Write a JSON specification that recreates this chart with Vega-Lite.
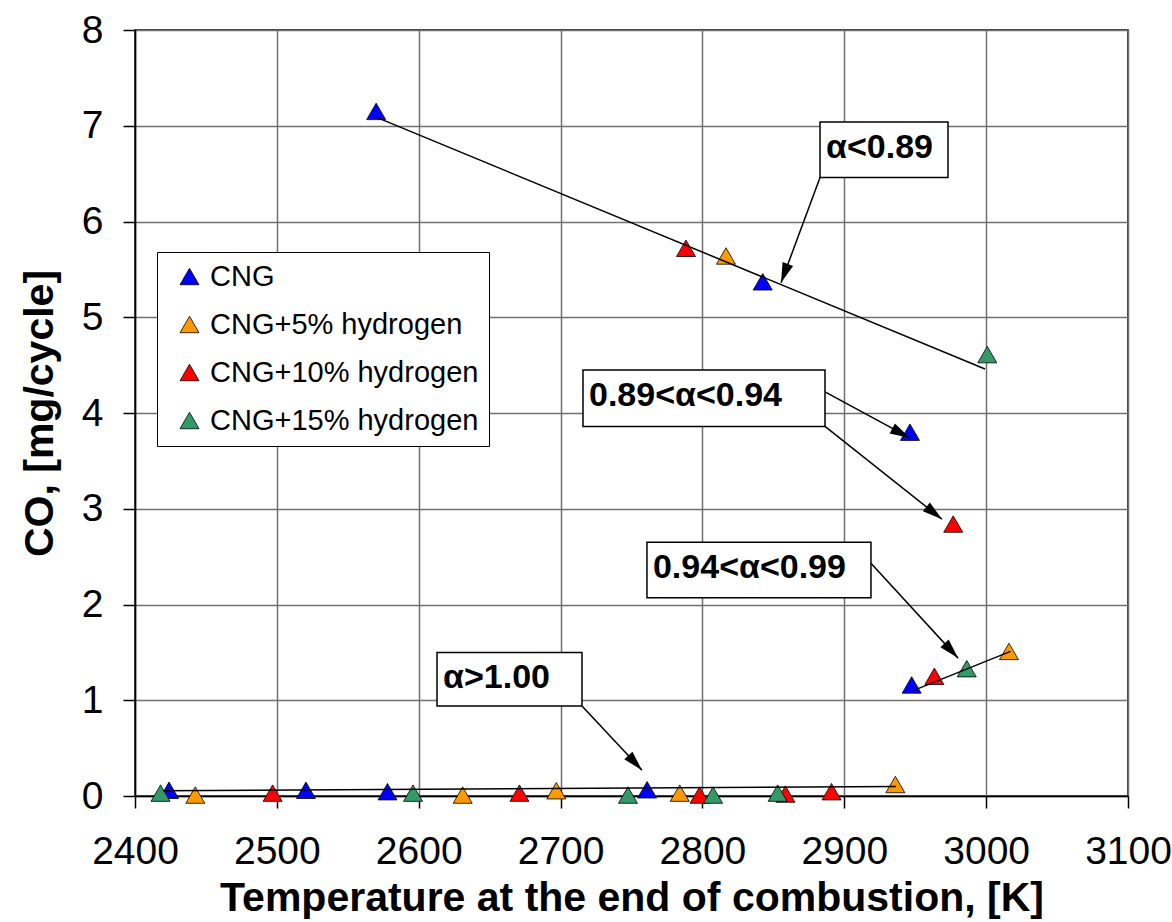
{
  "$schema": "https://vega.github.io/schema/vega-lite/v6.json",
  "width": 993,
  "height": 766,
  "autosize": {"type": "none"},
  "padding": {"left": 135, "top": 30, "right": 44, "bottom": 126},
  "background": "white",
  "config": {
    "font": "Liberation Sans",
    "view": {"stroke": "#000", "strokeWidth": 1.5},
    "axis": {
      "gridColor": "#707070", "gridWidth": 1.5, "gridOpacity": 1,
      "domainColor": "#000", "domainWidth": 1.5,
      "tickColor": "#000", "tickWidth": 1.5, "tickSize": 12,
      "labelFont": "Liberation Sans", "labelFontSize": 39, "labelColor": "#000",
      "labelFlush": false, "labelOverlap": false, "labelBound": false,
      "titleFont": "Liberation Sans", "titleFontSize": 41, "titleFontWeight": "bold", "titleColor": "#000"
    }
  },
  "datasets": {
    "points": [
      {"series": "CNG", "T": 2570, "CO": 7.15},
      {"series": "CNG", "T": 2842.5, "CO": 5.37},
      {"series": "CNG", "T": 2946.3, "CO": 3.80},
      {"series": "CNG", "T": 2947.5, "CO": 1.16},
      {"series": "CNG", "T": 2424, "CO": 0.06},
      {"series": "CNG", "T": 2520.5, "CO": 0.06},
      {"series": "CNG", "T": 2578, "CO": 0.045},
      {"series": "CNG", "T": 2761, "CO": 0.065},
      {"series": "CNG+5% hydrogen", "T": 2816.6, "CO": 5.64},
      {"series": "CNG+5% hydrogen", "T": 3016.1, "CO": 1.51},
      {"series": "CNG+5% hydrogen", "T": 2442.5, "CO": 0.01},
      {"series": "CNG+5% hydrogen", "T": 2631, "CO": 0.01},
      {"series": "CNG+5% hydrogen", "T": 2697, "CO": 0.055},
      {"series": "CNG+5% hydrogen", "T": 2784, "CO": 0.03},
      {"series": "CNG+5% hydrogen", "T": 2936, "CO": 0.12},
      {"series": "CNG+10% hydrogen", "T": 2788.4, "CO": 5.72},
      {"series": "CNG+10% hydrogen", "T": 2976.8, "CO": 2.84},
      {"series": "CNG+10% hydrogen", "T": 2963.5, "CO": 1.25},
      {"series": "CNG+10% hydrogen", "T": 2497, "CO": 0.03},
      {"series": "CNG+10% hydrogen", "T": 2671, "CO": 0.03},
      {"series": "CNG+10% hydrogen", "T": 2798, "CO": 0.01},
      {"series": "CNG+10% hydrogen", "T": 2858.5, "CO": 0.02},
      {"series": "CNG+10% hydrogen", "T": 2891, "CO": 0.045},
      {"series": "CNG+15% hydrogen", "T": 3000.8, "CO": 4.61},
      {"series": "CNG+15% hydrogen", "T": 2986.3, "CO": 1.33},
      {"series": "CNG+15% hydrogen", "T": 2418, "CO": 0.03},
      {"series": "CNG+15% hydrogen", "T": 2596, "CO": 0.03},
      {"series": "CNG+15% hydrogen", "T": 2747.5, "CO": 0.01},
      {"series": "CNG+15% hydrogen", "T": 2807.5, "CO": 0.01},
      {"series": "CNG+15% hydrogen", "T": 2853, "CO": 0.03}
    ],
    "fits": [
      {"fit": "a", "T": 2569.9, "CO": 7.09},
      {"fit": "a", "T": 2999.2, "CO": 4.46},
      {"fit": "b", "T": 2948.5, "CO": 1.10},
      {"fit": "b", "T": 3017.2, "CO": 1.51},
      {"fit": "c", "T": 2419.7, "CO": 0.055},
      {"fit": "c", "T": 2936.4, "CO": 0.10}
    ],
    "arrows": [
      {"id": 1, "T1": 2882.9, "CO1": 6.46, "T2": 2855.4, "CO2": 5.36},
      {"id": 2, "T1": 2886.4, "CO1": 4.22, "T2": 2946.3, "CO2": 3.74},
      {"id": 3, "T1": 2886.4, "CO1": 3.86, "T2": 2968.9, "CO2": 2.89},
      {"id": 4, "T1": 2918.8, "CO1": 2.43, "T2": 2980.2, "CO2": 1.44},
      {"id": 5, "T1": 2715.1, "CO1": 0.94, "T2": 2757.4, "CO2": 0.27}
    ],
    "boxes": [
      {"label": "α<0.89", "T1": 2882.9, "T2": 2973.1, "CO1": 7.04, "CO2": 6.46},
      {"label": "0.89<α<0.94", "T1": 2715.8, "T2": 2886.4, "CO1": 4.45, "CO2": 3.86},
      {"label": "0.94<α<0.99", "T1": 2760.9, "T2": 2918.8, "CO1": 2.65, "CO2": 2.07},
      {"label": "α>1.00", "T1": 2612.9, "T2": 2715.1, "CO1": 1.50, "CO2": 0.94}
    ]
  },
  "layer": [
    {
      "data": {"name": "points"},
      "mark": {"type": "point", "shape": "triangle-up", "filled": true, "size": 361, "stroke": "#000", "strokeWidth": 0.8, "opacity": 1},
      "encoding": {
        "x": {"field": "T", "type": "quantitative",
          "scale": {"domain": [2400, 3100], "nice": false, "zero": false},
          "axis": {"title": "Temperature at the end of combustion, [K]", "values": [2400, 2500, 2600, 2700, 2800, 2900, 3000, 3100], "format": "d", "labelPadding": 24, "titlePadding": 7, "grid": true}},
        "y": {"field": "CO", "type": "quantitative",
          "scale": {"domain": [0, 8], "nice": false},
          "axis": {"title": "CO, [mg/cycle]", "values": [0, 1, 2, 3, 4, 5, 6, 7, 8], "format": "d", "labelPadding": 20, "titlePadding": 20, "grid": true}},
        "color": {"field": "series", "type": "nominal",
          "scale": {"domain": ["CNG", "CNG+5% hydrogen", "CNG+10% hydrogen", "CNG+15% hydrogen"], "range": ["#0000FF", "#FF9900", "#FF0000", "#339966"]},
          "legend": {"orient": "none", "legendX": 22, "legendY": 222, "title": null,
            "labelFont": "Liberation Sans", "labelFontSize": 29, "labelColor": "#000", "labelLimit": 0,
            "symbolType": "triangle-up", "symbolSize": 361, "symbolStrokeColor": "#000", "symbolStrokeWidth": 0.8, "symbolOpacity": 1,
            "strokeColor": "#000", "fillColor": "#fff", "padding": 10, "rowPadding": 18, "labelOffset": 6, "symbolOffset": 8}}
      }
    },
    {
      "data": {"name": "fits"},
      "mark": {"type": "line", "color": "#000", "strokeWidth": 1.5},
      "encoding": {
        "x": {"field": "T", "type": "quantitative"},
        "y": {"field": "CO", "type": "quantitative"},
        "detail": {"field": "fit", "type": "nominal"}
      }
    },
    {
      "data": {"name": "arrows"},
      "mark": {"type": "rule", "color": "#000", "strokeWidth": 1.5},
      "encoding": {
        "x": {"field": "T1", "type": "quantitative"},
        "y": {"field": "CO1", "type": "quantitative"},
        "x2": {"field": "T2"},
        "y2": {"field": "CO2"}
      }
    },
    {
      "data": {"name": "arrows"},
      "transform": [{"filter": "datum.id == 1"}],
      "mark": {"type": "point", "shape": "M0,0L-0.28,1L0.28,1Z", "filled": true, "color": "#000", "opacity": 1, "size": 1600, "angle": 200},
      "encoding": {"x": {"field": "T2", "type": "quantitative"}, "y": {"field": "CO2", "type": "quantitative"}}
    },
    {
      "data": {"name": "arrows"},
      "transform": [{"filter": "datum.id == 2"}],
      "mark": {"type": "point", "shape": "M0,0L-0.28,1L0.28,1Z", "filled": true, "color": "#000", "opacity": 1, "size": 1600, "angle": 118},
      "encoding": {"x": {"field": "T2", "type": "quantitative"}, "y": {"field": "CO2", "type": "quantitative"}}
    },
    {
      "data": {"name": "arrows"},
      "transform": [{"filter": "datum.id == 3"}],
      "mark": {"type": "point", "shape": "M0,0L-0.28,1L0.28,1Z", "filled": true, "color": "#000", "opacity": 1, "size": 1600, "angle": 128.5},
      "encoding": {"x": {"field": "T2", "type": "quantitative"}, "y": {"field": "CO2", "type": "quantitative"}}
    },
    {
      "data": {"name": "arrows"},
      "transform": [{"filter": "datum.id == 4"}],
      "mark": {"type": "point", "shape": "M0,0L-0.28,1L0.28,1Z", "filled": true, "color": "#000", "opacity": 1, "size": 1600, "angle": 137.5},
      "encoding": {"x": {"field": "T2", "type": "quantitative"}, "y": {"field": "CO2", "type": "quantitative"}}
    },
    {
      "data": {"name": "arrows"},
      "transform": [{"filter": "datum.id == 5"}],
      "mark": {"type": "point", "shape": "M0,0L-0.28,1L0.28,1Z", "filled": true, "color": "#000", "opacity": 1, "size": 1600, "angle": 137},
      "encoding": {"x": {"field": "T2", "type": "quantitative"}, "y": {"field": "CO2", "type": "quantitative"}}
    },
    {
      "data": {"name": "boxes"},
      "mark": {"type": "rect", "fill": "#fff", "stroke": "#000", "strokeWidth": 1.5},
      "encoding": {
        "x": {"field": "T1", "type": "quantitative"},
        "x2": {"field": "T2"},
        "y": {"field": "CO1", "type": "quantitative"},
        "y2": {"field": "CO2"}
      }
    },
    {
      "data": {"name": "boxes"},
      "mark": {"type": "text", "align": "left", "baseline": "top", "dx": 6, "dy": 9, "font": "Liberation Sans", "fontSize": 34, "fontWeight": "bold", "color": "#000"},
      "encoding": {
        "x": {"field": "T1", "type": "quantitative"},
        "y": {"field": "CO1", "type": "quantitative"},
        "text": {"field": "label"}
      }
    }
  ]
}
